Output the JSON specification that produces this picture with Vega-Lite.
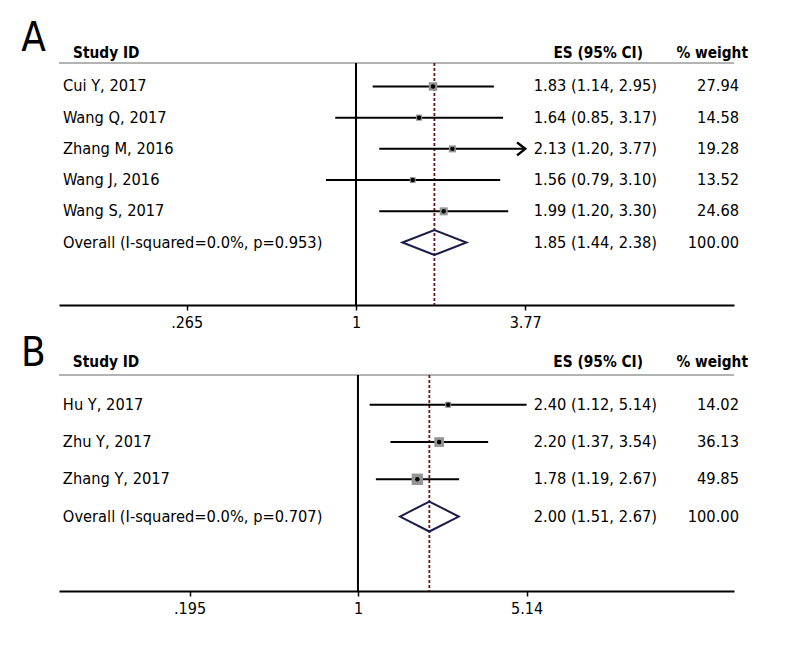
{
  "$schema": "https://vega.github.io/schema/vega-lite/v6.json",
  "padding": {"left": 21, "top": 18, "right": 5, "bottom": 5},
  "bounds": "flush",
  "spacing": 70,
  "background": "white",
  "config": {
    "view": {"stroke": null},
    "font": "DejaVu Sans Condensed, sans-serif",
    "text": {"font": "DejaVu Sans Condensed, sans-serif", "fontSize": 16.3, "color": "black", "baseline": "middle"},
    "axisX": {
      "domainColor": "black", "domainWidth": 2, "tickColor": "black", "tickWidth": 1.5, "tickSize": 5,
      "labelFont": "DejaVu Sans Condensed, sans-serif", "labelFontSize": 16, "labelColor": "black",
      "labelPadding": 4, "grid": false, "title": null
    }
  },
  "datasets": {
    "A": [
      {"study": "Cui Y, 2017", "es": 1.83, "lo": 1.14, "hi": 2.95, "weight": 27.94, "ci": "1.83 (1.14, 2.95)", "row": 1, "type": "study"},
      {"study": "Wang Q, 2017", "es": 1.64, "lo": 0.85, "hi": 3.17, "weight": 14.58, "ci": "1.64 (0.85, 3.17)", "row": 2, "type": "study"},
      {"study": "Zhang M, 2016", "es": 2.13, "lo": 1.20, "hi": 3.77, "weight": 19.28, "ci": "2.13 (1.20, 3.77)", "row": 3, "type": "study"},
      {"study": "Wang J, 2016", "es": 1.56, "lo": 0.79, "hi": 3.10, "weight": 13.52, "ci": "1.56 (0.79, 3.10)", "row": 4, "type": "study"},
      {"study": "Wang S, 2017", "es": 1.99, "lo": 1.20, "hi": 3.30, "weight": 24.68, "ci": "1.99 (1.20, 3.30)", "row": 5, "type": "study"},
      {"study": "Overall (I-squared=0.0%, p=0.953)", "es": 1.85, "lo": 1.44, "hi": 2.38, "weight": 100.00, "ci": "1.85 (1.44, 2.38)", "row": 6, "type": "overall"}
    ],
    "B": [
      {"study": "Hu Y, 2017", "es": 2.40, "lo": 1.12, "hi": 5.14, "weight": 14.02, "ci": "2.40 (1.12, 5.14)", "row": 1, "type": "study"},
      {"study": "Zhu Y, 2017", "es": 2.20, "lo": 1.37, "hi": 3.54, "weight": 36.13, "ci": "2.20 (1.37, 3.54)", "row": 2, "type": "study"},
      {"study": "Zhang Y, 2017", "es": 1.78, "lo": 1.19, "hi": 2.67, "weight": 49.85, "ci": "1.78 (1.19, 2.67)", "row": 3, "type": "study"},
      {"study": "Overall (I-squared=0.0%, p=0.707)", "es": 2.00, "lo": 1.51, "hi": 2.67, "weight": 100.00, "ci": "2.00 (1.51, 2.67)", "row": 4, "type": "overall"}
    ],
    "headA": [{"panel": "A", "c1": "Study ID", "c2": "ES (95% CI)", "c3": "% weight"}],
    "headB": [{"panel": "B", "c1": "Study ID", "c2": "ES (95% CI)", "c3": "% weight"}]
  },
  "vconcat": [
    {
      "width": 675, "height": 242,
      "data": {"name": "A"},
      "layer": [
        {"mark": {"type": "rule", "color": "#9a9a9a", "strokeWidth": 1.5},
         "data": {"name": "headA"},
         "encoding": {"y": {"datum": 0.25, "type": "quantitative", "scale": {"domain": [0.25, 8], "reverse": true, "nice": false, "zero": false}, "axis": null}}},
        {"mark": {"type": "rule", "color": "black", "strokeWidth": 2},
         "data": {"name": "headA"},
         "encoding": {"x": {"datum": 1, "type": "quantitative",
           "scale": {"type": "log", "domain": [0.09737, 19.39], "nice": false},
           "axis": {"values": [0.265, 1, 3.77], "labelExpr": "replace(toString(datum.value), '0.', '.')", "title": null}}}},
        {"transform": [{"filter": "datum.type == 'overall'"}],
         "mark": {"type": "rule", "color": "#6e1414", "strokeWidth": 1.8, "strokeDash": [3, 2]},
         "encoding": {"x": {"field": "es", "type": "quantitative"}}},
        {"transform": [{"filter": "datum.type == 'study'"}],
         "mark": {"type": "rule", "color": "black", "strokeWidth": 2},
         "encoding": {
           "x": {"field": "lo", "type": "quantitative"}, "x2": {"field": "hi"},
           "y": {"field": "row", "type": "quantitative", "axis": null}}},
        {"transform": [{"filter": "datum.type == 'study' && datum.hi >= 3.77"}],
         "mark": {"type": "point", "shape": "M-1.25,-1L0,0L-1.25,1", "filled": false, "stroke": "black", "strokeWidth": 2.5, "size": 169, "opacity": 1},
         "encoding": {
           "x": {"field": "hi", "type": "quantitative"},
           "y": {"field": "row", "type": "quantitative", "axis": null}}},
        {"transform": [{"filter": "datum.type == 'study'"}],
         "mark": {"type": "point", "shape": "square", "filled": true, "color": "#959595", "opacity": 1},
         "encoding": {
           "x": {"field": "es", "type": "quantitative"},
           "y": {"field": "row", "type": "quantitative", "axis": null},
           "size": {"field": "weight", "type": "quantitative", "scale": {"type": "linear", "domain": [0, 50], "range": [0, 130]}, "legend": null}}},
        {"transform": [{"filter": "datum.type == 'study'"}],
         "mark": {"type": "point", "shape": "circle", "filled": true, "color": "black", "size": 20, "opacity": 1},
         "encoding": {
           "x": {"field": "es", "type": "quantitative"},
           "y": {"field": "row", "type": "quantitative", "axis": null}}},
        {"transform": [{"filter": "datum.type == 'overall'"}],
         "mark": {"type": "point", "shape": "M-1,0L0,-0.39L1,0L0,0.39Z", "filled": false, "stroke": "#1c1c4a", "strokeWidth": 2, "size": 4096, "opacity": 1},
         "encoding": {
           "x": {"field": "es", "type": "quantitative"},
           "y": {"field": "row", "type": "quantitative", "axis": null}}},
        {"mark": {"type": "text", "align": "left"},
         "encoding": {
           "x": {"datum": 0.1004, "type": "quantitative"},
           "y": {"field": "row", "type": "quantitative", "axis": null},
           "text": {"field": "study"}}},
        {"mark": {"type": "text", "align": "right"},
         "encoding": {
           "x": {"datum": 10.60, "type": "quantitative"},
           "y": {"field": "row", "type": "quantitative", "axis": null},
           "text": {"field": "ci"}}},
        {"mark": {"type": "text", "align": "right"},
         "encoding": {
           "x": {"datum": 20.17, "type": "quantitative"},
           "y": {"field": "row", "type": "quantitative", "axis": null},
           "text": {"field": "weight", "format": ".2f"}}},
        {"data": {"name": "headA"},
         "mark": {"type": "text", "align": "left", "fontWeight": "bold", "fontSize": 15.3},
         "encoding": {
           "x": {"datum": 0.1087, "type": "quantitative"},
           "y": {"datum": -0.07, "type": "quantitative", "axis": null},
           "text": {"field": "c1"}}},
        {"data": {"name": "headA"},
         "mark": {"type": "text", "align": "right", "fontWeight": "bold", "fontSize": 15.3},
         "encoding": {
           "x": {"datum": 9.50, "type": "quantitative"},
           "y": {"datum": -0.07, "type": "quantitative", "axis": null},
           "text": {"field": "c2"}}},
        {"data": {"name": "headA"},
         "mark": {"type": "text", "align": "right", "fontWeight": "bold", "fontSize": 15.3},
         "encoding": {
           "x": {"datum": 21.64, "type": "quantitative"},
           "y": {"datum": -0.07, "type": "quantitative", "axis": null},
           "text": {"field": "c3"}}},
        {"data": {"name": "headA"},
         "mark": {"type": "text", "align": "center", "fontSize": 40},
         "encoding": {
           "x": {"datum": 0.0797, "type": "quantitative"},
           "y": {"datum": -0.52, "type": "quantitative", "axis": null},
           "text": {"field": "panel"}}}
      ]
    },
    {
      "width": 675, "height": 216,
      "data": {"name": "B"},
      "layer": [
        {"mark": {"type": "rule", "color": "#9a9a9a", "strokeWidth": 1.5},
         "data": {"name": "headB"},
         "encoding": {"y": {"datum": 0.2, "type": "quantitative", "scale": {"domain": [0.2, 6], "reverse": true, "nice": false, "zero": false}, "axis": null}}},
        {"mark": {"type": "rule", "color": "black", "strokeWidth": 2},
         "data": {"name": "headB"},
         "encoding": {"x": {"datum": 1, "type": "quantitative",
           "scale": {"type": "log", "domain": [0.0549, 38.5], "nice": false},
           "axis": {"values": [0.195, 1, 5.14], "labelExpr": "replace(toString(datum.value), '0.', '.')", "title": null}}}},
        {"transform": [{"filter": "datum.type == 'overall'"}],
         "mark": {"type": "rule", "color": "#6e1414", "strokeWidth": 1.8, "strokeDash": [3, 2]},
         "encoding": {"x": {"field": "es", "type": "quantitative"}}},
        {"transform": [{"filter": "datum.type == 'study'"}],
         "mark": {"type": "rule", "color": "black", "strokeWidth": 2},
         "encoding": {
           "x": {"field": "lo", "type": "quantitative"}, "x2": {"field": "hi"},
           "y": {"field": "row", "type": "quantitative", "axis": null}}},
        {"transform": [{"filter": "datum.type == 'study'"}],
         "mark": {"type": "point", "shape": "square", "filled": true, "color": "#959595", "opacity": 1},
         "encoding": {
           "x": {"field": "es", "type": "quantitative"},
           "y": {"field": "row", "type": "quantitative", "axis": null},
           "size": {"field": "weight", "type": "quantitative", "scale": {"type": "linear", "domain": [0, 50], "range": [0, 130]}, "legend": null}}},
        {"transform": [{"filter": "datum.type == 'study'"}],
         "mark": {"type": "point", "shape": "circle", "filled": true, "color": "black", "size": 20, "opacity": 1},
         "encoding": {
           "x": {"field": "es", "type": "quantitative"},
           "y": {"field": "row", "type": "quantitative", "axis": null}}},
        {"transform": [{"filter": "datum.type == 'overall'"}],
         "mark": {"type": "point", "shape": "M-1,0L0,-0.51L1,0L0,0.51Z", "filled": false, "stroke": "#1c1c4a", "strokeWidth": 2, "size": 3457, "opacity": 1},
         "encoding": {
           "x": {"field": "es", "type": "quantitative"},
           "y": {"field": "row", "type": "quantitative", "axis": null}}},
        {"mark": {"type": "text", "align": "left"},
         "encoding": {
           "x": {"datum": 0.0570, "type": "quantitative"},
           "y": {"field": "row", "type": "quantitative", "axis": null},
           "text": {"field": "study"}}},
        {"mark": {"type": "text", "align": "right"},
         "encoding": {
           "x": {"datum": 18.23, "type": "quantitative"},
           "y": {"field": "row", "type": "quantitative", "axis": null},
           "text": {"field": "ci"}}},
        {"mark": {"type": "text", "align": "right"},
         "encoding": {
           "x": {"datum": 40.4, "type": "quantitative"},
           "y": {"field": "row", "type": "quantitative", "axis": null},
           "text": {"field": "weight", "format": ".2f"}}},
        {"data": {"name": "headB"},
         "mark": {"type": "text", "align": "left", "fontWeight": "bold", "fontSize": 15.3},
         "encoding": {
           "x": {"datum": 0.0628, "type": "quantitative"},
           "y": {"datum": -0.15, "type": "quantitative", "axis": null},
           "text": {"field": "c1"}}},
        {"data": {"name": "headB"},
         "mark": {"type": "text", "align": "right", "fontWeight": "bold", "fontSize": 15.3},
         "encoding": {
           "x": {"datum": 15.91, "type": "quantitative"},
           "y": {"datum": -0.15, "type": "quantitative", "axis": null},
           "text": {"field": "c2"}}},
        {"data": {"name": "headB"},
         "mark": {"type": "text", "align": "right", "fontWeight": "bold", "fontSize": 15.3},
         "encoding": {
           "x": {"datum": 44.1, "type": "quantitative"},
           "y": {"datum": -0.15, "type": "quantitative", "axis": null},
           "text": {"field": "c3"}}},
        {"data": {"name": "headB"},
         "mark": {"type": "text", "align": "center", "fontSize": 40},
         "encoding": {
           "x": {"datum": 0.0428, "type": "quantitative"},
           "y": {"datum": -0.36, "type": "quantitative", "axis": null},
           "text": {"field": "panel"}}}
      ]
    }
  ]
}
